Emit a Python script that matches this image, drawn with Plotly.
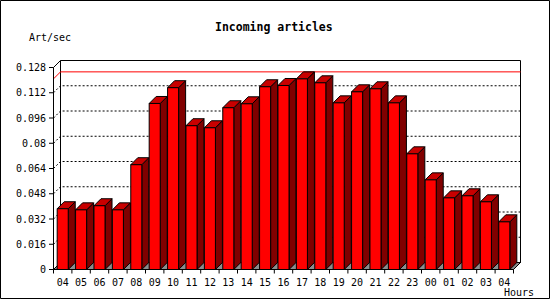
import plotly.graph_objects as go

# ---------------- data ----------------
hours = ["04", "05", "06", "07", "08", "09", "10", "11", "12", "13", "14", "15",
         "16", "17", "18", "19", "20", "21", "22", "23", "00", "01", "02", "03", "04"]
rates = [0.0385, 0.0378, 0.0404, 0.0378, 0.0664, 0.1052, 0.1152, 0.0911, 0.0898,
         0.1025, 0.1050, 0.1158, 0.1166, 0.1208, 0.1183, 0.1056, 0.1126, 0.1145,
         0.1056, 0.0733, 0.0568, 0.0454, 0.0467, 0.0429, 0.0302]
ytick_vals = [0, 0.016, 0.032, 0.048, 0.064, 0.08, 0.096, 0.112, 0.128]
ytick_text = ["0", "0.016", "0.032", "0.048", "0.064", "0.08", "0.096", "0.112", "0.128"]
title_text = "Incoming articles"
y_title = "Art/sec"
x_title = "Hours"

# ---------------- layout geometry ----------------
W, H = 550, 300
L, R, T, B = 47, 27, 57, 25
PW, PH = W - L - R, H - T - B
XS = 18.4            # px per category
YS = 202 / 0.128     # px per unit
X0PX, Y0PX = 53.5, 269.5   # pixel of x=-0.5 and y=0
xrange_ = [-0.5 - (X0PX - L) / XS, -0.5 + (L + PW - X0PX) / XS]
yrange_ = [-(H - B - Y0PX) / YS, (Y0PX - T) / YS]
DX, DY = 7 / XS, 7 / YS
HW = 0.3
n = len(hours)
xl, xr = -0.5, n - 0.5
ytop = ytick_vals[-1]
FONT = "DejaVu Sans Mono"


def px(xp):
    return (xp - L) / PW


def py(yp):
    return (H - B - yp) / PH


fig = go.Figure()


def poly(xs, ys, fill, line="black", width=1, dash=None):
    fig.add_trace(go.Scatter(
        x=xs, y=ys, mode="lines", fill="toself" if fill else None,
        fillcolor=fill, line=dict(color=line, width=width, dash=dash),
        hoverinfo="skip", showlegend=False))


# floor
poly([xl, xl + DX, xr + DX, xr, xl], [0, DY, DY, 0, 0], "#8c8c8c")
# back wall
poly([xl + DX, xr + DX, xr + DX, xl + DX, xl + DX],
     [DY, DY, ytop + DY, ytop + DY, DY], None)
# dotted grid
gx, gy = [], []
for v in ytick_vals[1:-1]:
    gx += [xl, xl + DX, xr + DX, None]
    gy += [v, v + DY, v + DY, None]
poly(gx, gy, None, dash="2px,2px")
# max line
m = max(rates)
poly([xl, xl + DX, xr + DX], [m, m + DY, m + DY], None, line="#ff0000")

# bars
sx, sy, tx, ty, fx, fy = [], [], [], [], [], []
for i, v in enumerate(rates):
    a, b = i - HW, i + HW
    sx += [b, b + DX, b + DX, b, b, None]
    sy += [v, v + DY, DY, 0, v, None]
    tx += [a, a + DX, b + DX, b, a, None]
    ty += [v, v + DY, v + DY, v, v, None]
    fx += [a, b, b, a, a, None]
    fy += [0, 0, v, v, 0, None]
poly(sx, sy, "#800000")
poly(tx, ty, "#c80000")
poly(fx, fy, "#ff0000")

# axes
poly([xl, xl, xl + DX], [0, ytop, ytop + DY], None)
poly([xl, xr, xr + DX], [0, 0, DY], None)
# tick marks
kx, ky = [], []
for v in ytick_vals:
    kx += [xl - 4.5 / XS, xl, None]
    ky += [v, v, None]
for i in range(n + 1):
    kx += [i - 0.5, i - 0.5, None]
    ky += [0, -4 / YS, None]
poly(kx, ky, None)

fig.update_layout(
    width=W, height=H, margin=dict(l=L, r=R, t=T, b=B),
    paper_bgcolor="white", plot_bgcolor="white",
    font=dict(family=FONT, size=10, color="black"),
    xaxis=dict(range=xrange_, showgrid=False, zeroline=False, showline=False,
               tickmode="array", tickvals=list(range(n)), ticktext=hours,
               ticks="", tickangle=0, fixedrange=True,
               tickfont=dict(family=FONT, size=10)),
    yaxis=dict(range=yrange_, showgrid=False, zeroline=False, showline=False,
               tickmode="array", tickvals=ytick_vals, ticktext=ytick_text,
               ticks="", fixedrange=True, tickfont=dict(family=FONT, size=10)),
    annotations=[
        dict(text="<b>" + title_text + "</b>", x=px(274), y=py(27), xref="paper",
             yref="paper", showarrow=False, xanchor="center", yanchor="middle",
             font=dict(family=FONT, size=11.5)),
        dict(text=y_title, x=px(50), y=py(37), xref="paper", yref="paper",
             showarrow=False, xanchor="center", yanchor="middle",
             font=dict(family=FONT, size=10)),
        dict(text=x_title, x=px(519), y=py(292), xref="paper", yref="paper",
             showarrow=False, xanchor="center", yanchor="middle",
             font=dict(family=FONT, size=10)),
    ],
    shapes=[dict(type="rect", xref="paper", yref="paper",
                 x0=px(0.5), x1=px(549.5), y0=py(298.5), y1=py(0.5),
                 line=dict(color="black", width=1), layer="above")],
)

fig.write_html("out.html", config={"displayModeBar": False})
